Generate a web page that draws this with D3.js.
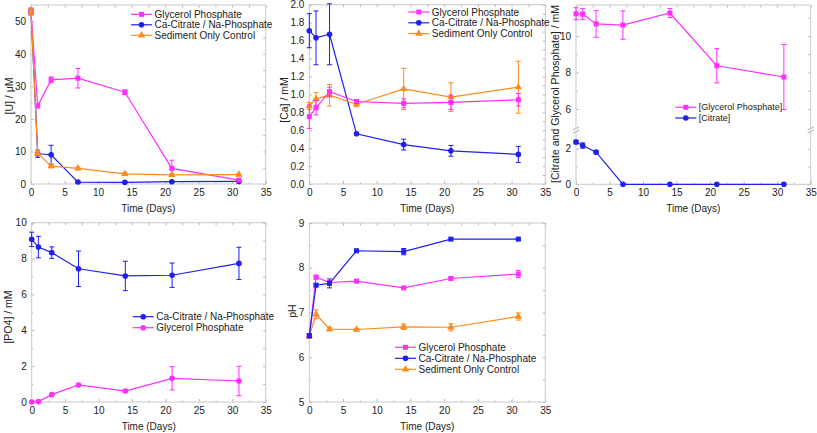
<!DOCTYPE html>
<html>
<head>
<meta charset="utf-8">
<script src="https://cdn.jsdelivr.net/npm/d3@7"></script>
<style>
  body { margin: 0; background: #fff; }
  svg { font-family: "Liberation Sans", Arial, sans-serif; }
  .tick text { fill: #222; font-size: 10px; }
  .tick line { stroke: #b8b8b8; }
  .domain { stroke: #c8c8c8; }
</style>
</head>
<body>
<script>
// sampling days
const days = [0, 1, 3, 7, 14, 21, 31];
const xTicks = [0, 5, 10, 15, 20, 25, 30, 35];

// [U] / uM
const uGly = [53, 24, 32, 32.5, 28.2, 4.8, 1.2];
const uGlyErr = [1, 0.6, 0.9, 3, 0.7, 2.5, 0.3];
const uCit = [53, 9.3, 9.0, 0.6, 0.5, 0.7, 0.8];
const uCitErr = [1, 1.1, 2.9, 0.2, 0.2, 0.2, 0.2];
const uSed = [53, 9.5, 5.5, 4.8, 3.1, 2.8, 2.9];
const uSedErr = [1, 0.8, 0.5, 0.4, 0.3, 0.4, 0.3];

// [Ca] / mM
const caGly = [0.75, 0.85, 1.03, 0.92, 0.90, 0.91, 0.94];
const caGlyErr = [0.13, 0.08, 0.05, 0.02, 0.05, 0.08, 0.07];
const caCit = [1.71, 1.63, 1.67, 0.56, 0.44, 0.37, 0.33];
const caCitErr = [0.19, 0.30, 0.34, 0.01, 0.06, 0.06, 0.09];
const caSed = [0.87, 0.95, 0.99, 0.89, 1.06, 0.97, 1.08];
const caSedErr = [0.04, 0.07, 0.12, 0.03, 0.23, 0.16, 0.29];

// [Citrate] and [Glycerol Phosphate] / mM
const gpConc = [11.22, 11.2, 10.66, 10.6, 11.26, 8.37, 7.75];
const gpConcErr = [0.33, 0.3, 0.73, 0.78, 0.25, 0.94, 1.78];
const citConc = [2.38, 2.18, 1.81, 0, 0, 0, 0];
const citConcErr = [0.1, 0.15, 0.07, 0, 0, 0, 0];

// [PO4] / mM
const po4Cit = [9.07, 8.64, 8.33, 7.43, 7.03, 7.07, 7.73];
const po4CitErr = [0.4, 0.6, 0.32, 0.99, 0.82, 0.68, 0.9];
const po4Gly = [0, 0.02, 0.41, 0.95, 0.61, 1.32, 1.17];
const po4GlyErr = [0, 0, 0.03, 0.05, 0.07, 0.65, 0.82];

// pH
const phGly = [6.48, 7.79, 7.67, 7.70, 7.55, 7.76, 7.86];
const phGlyErr = [0.04, 0.04, 0.03, 0.02, 0.02, 0.03, 0.08];
const phCit = [6.48, 7.61, 7.65, 8.38, 8.36, 8.64, 8.64];
const phCitErr = [0.04, 0.03, 0.1, 0.03, 0.07, 0.02, 0.02];
const phSed = [6.47, 6.96, 6.63, 6.62, 6.68, 6.67, 6.91];
const phSedErr = [0.05, 0.1, 0.04, 0.02, 0.06, 0.08, 0.08];

const MAG = "#ff2eff", BLUE = "#1f1ff0", ORANGE = "#fb8c1e";

const svg = d3.select("body").append("svg").attr("width", 817).attr("height", 433);

function marker(sel, shape, color) {
  if (shape === "square") {
    sel.append("rect").attr("x", -2.5).attr("y", -2.5).attr("width", 5).attr("height", 5).attr("fill", color);
  } else if (shape === "circle") {
    sel.append("circle").attr("r", 2.8).attr("fill", color);
  } else {
    sel.append("path").attr("d", d3.symbol(d3.symbolTriangle, 24)()).attr("fill", color);
  }
}

function panel(p) {
  const x = d3.scaleLinear().domain([0, 35]).range([p.left, p.right]);
  const y = d3.scaleLinear().domain(p.yDomain).range(p.yRange);
  const top = d3.min(p.yRange), bottom = d3.max(p.yRange);
  const g = svg.append("g");

  const minorX = d3.range(2.5, 35, 5);
  g.append("g").attr("transform", `translate(0,${bottom})`)
    .call(d3.axisBottom(x).tickValues(xTicks).tickSize(-3).tickSizeOuter(0).tickPadding(5));
  g.append("g").attr("transform", `translate(0,${bottom})`)
    .call(d3.axisBottom(x).tickValues(minorX).tickSize(-1.5).tickFormat("").tickSizeOuter(0));
  g.append("g").attr("transform", `translate(0,${top})`)
    .call(d3.axisTop(x).tickValues(xTicks.concat(minorX)).tickSize(-2.5).tickFormat("").tickSizeOuter(0));

  g.append("g").attr("transform", `translate(${p.left},0)`)
    .call(d3.axisLeft(y).tickValues(p.yTicks).tickSize(-3).tickSizeOuter(0).tickPadding(5).tickFormat(p.fmt || d3.format("d")));
  g.append("g").attr("transform", `translate(${p.left},0)`)
    .call(d3.axisLeft(y).tickValues(p.yMinor).tickSize(-1.5).tickFormat("").tickSizeOuter(0));
  g.append("g").attr("transform", `translate(${p.right},0)`)
    .call(d3.axisRight(y).tickValues(p.yTicks.concat(p.yMinor)).tickSize(-2.5).tickFormat("").tickSizeOuter(0));
  g.selectAll(".domain").remove();
  g.append("rect").attr("x", p.left).attr("y", top).attr("width", p.right - p.left).attr("height", bottom - top)
    .attr("fill", "none").attr("stroke", "#c8c8c8").attr("stroke-width", 1);

  if (p.breakY) {
    [p.left, p.right].forEach(bx => {
      g.append("rect").attr("x", bx - 2).attr("y", p.breakY - 1.5).attr("width", 4).attr("height", 3).attr("fill", "#fff");
      [-1.5, 1.5].forEach(o => g.append("line")
        .attr("x1", bx - 3).attr("x2", bx + 3).attr("y1", p.breakY + o + 1.5).attr("y2", p.breakY + o - 1.5)
        .attr("stroke", "#999").attr("stroke-width", 0.8));
    });
  }

  p.series.forEach(s => {
    const sg = g.append("g");
    sg.append("path").datum(days)
      .attr("d", d3.line().x(d => x(d)).y((d, i) => y(s.values[i])))
      .attr("fill", "none").attr("stroke", s.color).attr("stroke-width", 1.2);
    days.forEach((d, i) => {
      const e = s.err[i];
      if (e > 0) {
        const y1 = y(s.values[i] - e), y2 = y(s.values[i] + e), cx = x(d);
        sg.append("line").attr("x1", cx).attr("x2", cx).attr("y1", y1).attr("y2", y2).attr("stroke", s.color).attr("stroke-width", 1);
        [y1, y2].forEach(yy => sg.append("line").attr("x1", cx - 2.5).attr("x2", cx + 2.5).attr("y1", yy).attr("y2", yy)
          .attr("stroke", s.color).attr("stroke-width", 1));
      }
      const m = sg.append("g").attr("transform", `translate(${x(d)},${y(s.values[i])})`);
      marker(m, s.shape, s.color);
    });
  });

  // legend
  p.legendRows.forEach((s, i) => {
    const ly = p.legend[1] + i * p.legendStep;
    g.append("line").attr("x1", p.legend[0]).attr("x2", p.legend[0] + 21).attr("y1", ly).attr("y2", ly)
      .attr("stroke", s.color).attr("stroke-width", 1.2);
    marker(g.append("g").attr("transform", `translate(${p.legend[0] + 10.5},${ly})`), s.legendShape || s.shape, s.color);
    g.append("text").attr("x", p.legend[0] + 23.5).attr("y", ly).attr("dy", "0.35em")
      .attr("font-size", p.legendFont || 10).attr("fill", "#222").text(s.name);
  });

  g.append("text").attr("x", (p.left + p.right) / 2).attr("y", bottom + 28).attr("text-anchor", "middle")
    .attr("font-size", 10).attr("fill", "#222").text("Time (Days)");
  g.append("text").attr("transform", `translate(${p.yLabelX},${p.yLabelY}) rotate(-90)`)
    .attr("text-anchor", "middle").attr("dy", "0.35em").attr("font-size", 10.5).attr("fill", "#222").text(p.yLabel);
}

const gly = { name: "Glycerol Phosphate", color: MAG, shape: "square" };
const cit = { name: "Ca-Citrate / Na-Phosphate", color: BLUE, shape: "circle" };
const sed = { name: "Sediment Only Control", color: ORANGE, shape: "triangle" };

panel({
  left: 31, right: 265.7, yDomain: [0, 55], yRange: [184, 5],
  yTicks: [0, 10, 20, 30, 40, 50], yMinor: [5, 15, 25, 35, 45],
  series: [
    { ...cit, values: uCit, err: uCitErr },
    { ...gly, values: uGly, err: uGlyErr },
    { ...sed, values: uSed, err: uSedErr }
  ],
  legendRows: [gly, cit, sed], legend: [131, 14.3], legendStep: 10.5,
  yLabel: "[U] / \u03bcM", yLabelX: 9.5, yLabelY: 96
});

panel({
  left: 309.3, right: 545.3, yDomain: [0, 2], yRange: [184, 4.7],
  yTicks: d3.range(0, 2.01, 0.2), yMinor: d3.range(0.1, 2, 0.2), fmt: d3.format(".1f"),
  series: [
    { ...cit, values: caCit, err: caCitErr },
    { ...sed, values: caSed, err: caSedErr },
    { ...gly, values: caGly, err: caGlyErr }
  ],
  legendRows: [gly, cit, sed], legend: [408.3, 12], legendStep: 10.8,
  yLabel: "[Ca] / mM", yLabelX: 284, yLabelY: 100
});

panel({
  left: 576, right: 810.7, yDomain: [0, 3, 4.9, 11.7], yRange: [184.3, 131, 129, 5],
  yTicks: [0, 2, 6, 8, 10], yMinor: [1, 7, 9, 11], breakY: 130,
  series: [
    { name: "[Glycerol Phosphate]", color: MAG, shape: "square", values: gpConc, err: gpConcErr },
    { name: "[Citrate]", color: BLUE, shape: "circle", values: citConc, err: citConcErr }
  ],
  legendRows: [
    { name: "[Glycerol Phosphate]", color: MAG, shape: "square" },
    { name: "[Citrate]", color: BLUE, shape: "circle" }
  ], legend: [675.3, 107.3], legendStep: 10.7, legendFont: 9,
  yLabel: "[Citrate and  Glycerol Phosphate] / mM", yLabelX: 555.5, yLabelY: 94
});

panel({
  left: 31.7, right: 265.7, yDomain: [0, 10], yRange: [402, 222.7],
  yTicks: [0, 2, 4, 6, 8, 10], yMinor: [1, 3, 5, 7, 9],
  series: [
    { ...cit, values: po4Cit, err: po4CitErr },
    { ...gly, shape: "circle", values: po4Gly, err: po4GlyErr }
  ],
  legendRows: [cit, { ...gly, shape: "circle" }], legend: [132.7, 316.7], legendStep: 11,
  yLabel: "[PO4] / mM", yLabelX: 8, yLabelY: 317
});

panel({
  left: 309.3, right: 545.3, yDomain: [5, 9], yRange: [402, 223],
  yTicks: [5, 6, 7, 8, 9], yMinor: [5.5, 6.5, 7.5, 8.5],
  series: [
    { ...sed, values: phSed, err: phSedErr },
    { ...gly, values: phGly, err: phGlyErr },
    { ...cit, shape: "square", legendShape: "circle", values: phCit, err: phCitErr }
  ],
  legendRows: [gly, cit, sed], legend: [395, 347.3], legendStep: 11,
  yLabel: "pH", yLabelX: 292.5, yLabelY: 311
});
</script>
</body>
</html>
